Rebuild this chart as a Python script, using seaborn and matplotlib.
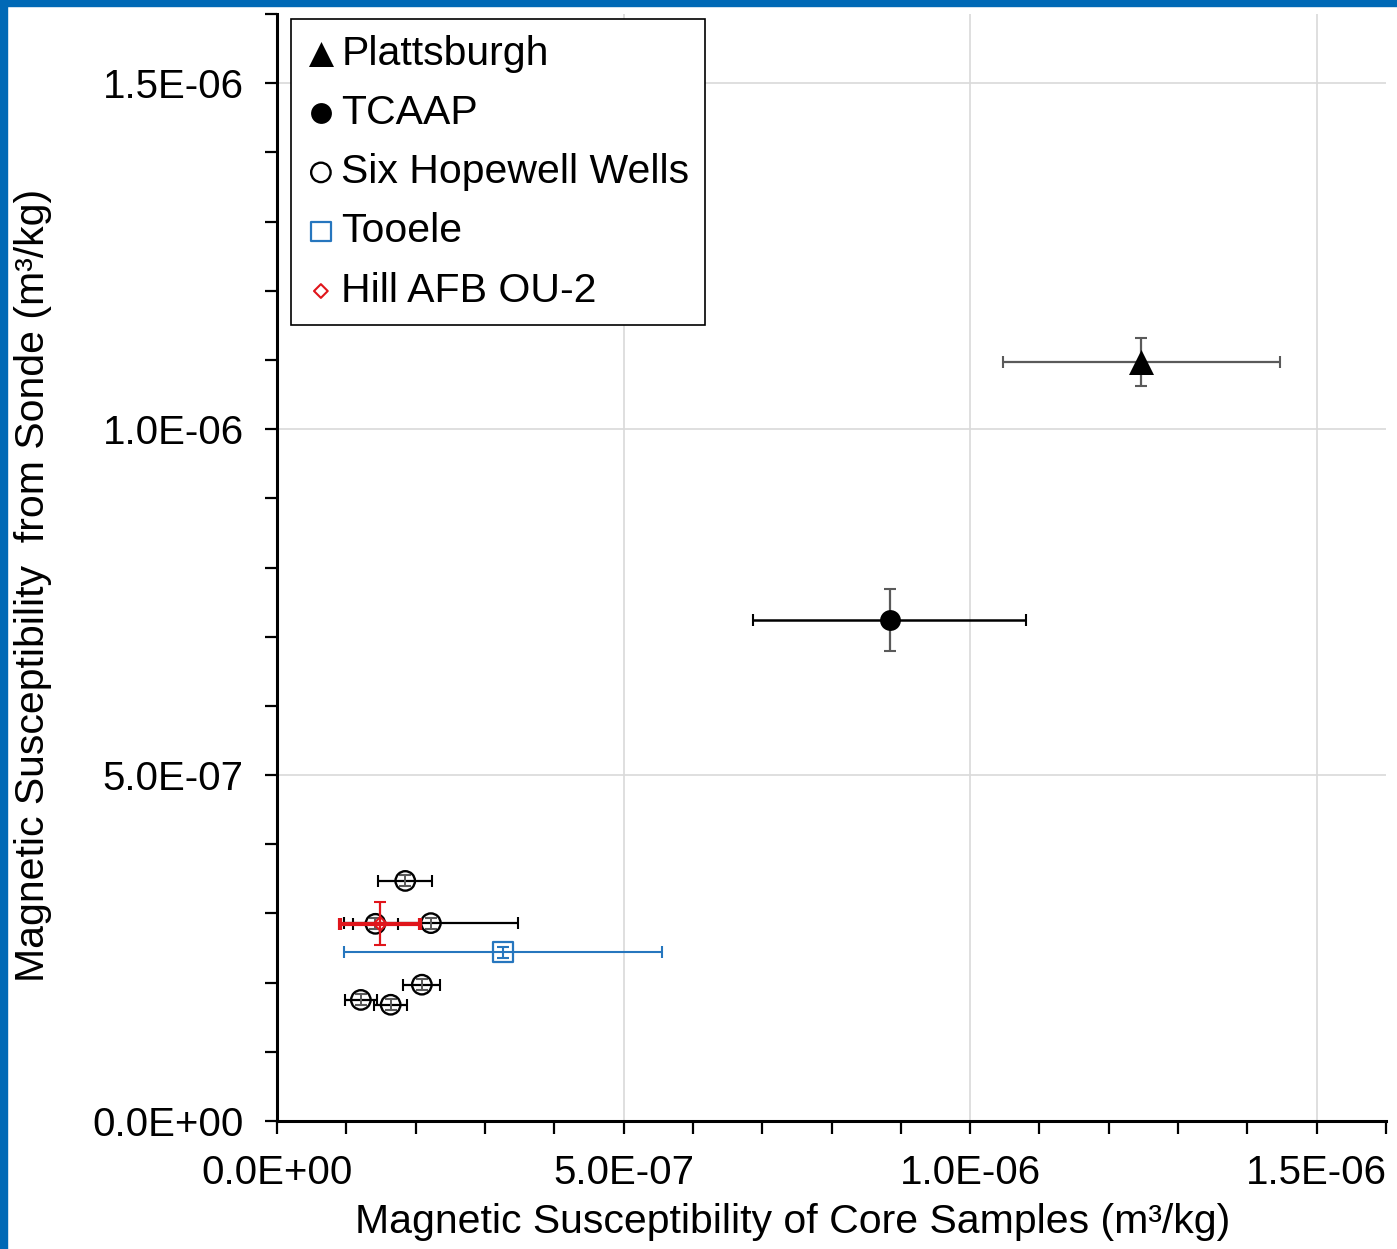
import matplotlib
matplotlib.use("Agg")
import matplotlib.pyplot as plt
from matplotlib.ticker import MultipleLocator, FuncFormatter
from matplotlib.patches import Rectangle
import seaborn as sns
import pandas as pd

# ---------------- data ----------------
plat_x = [1.247e-6]
plat_y = [1.097e-6]
plat_xerr = [2.0e-7]
plat_yerr = [3.4e-8]

tcaap_x = [8.84e-7]
tcaap_y = [7.24e-7]
tcaap_xerr = [1.97e-7]
tcaap_yerr = [4.5e-8]

hope_x = [1.85e-7, 2.22e-7, 1.42e-7, 2.09e-7, 1.21e-7, 1.64e-7]
hope_y = [3.47e-7, 2.86e-7, 2.85e-7, 1.97e-7, 1.75e-7, 1.68e-7]
hope_xerr = [3.9e-8, 1.25e-7, 3.3e-8, 2.65e-8, 2.3e-8, 2.35e-8]
hope_yerr = [8e-9, 8e-9, 8e-9, 8e-9, 8e-9, 8e-9]

tooele_x = [3.26e-7]
tooele_y = [2.44e-7]
tooele_xerr = [2.3e-7]
tooele_yerr = [7.7e-9]

hill_x = [1.49e-7]
hill_y = [2.85e-7]
hill_xerr = [5.8e-8]
hill_yerr = [3.1e-8]

labels = ["Plattsburgh", "TCAAP", "Six Hopewell Wells", "Tooele", "Hill AFB OU-2"]
x_label = "Magnetic Susceptibility of Core Samples (m³/kg)"
y_label = "Magnetic Susceptibility  from Sonde (m³/kg)"

# ---------------- style ----------------
sns.set_theme(style="white")
plt.rcParams["font.family"] = ["Liberation Sans", "DejaVu Sans"]

W, H = 1397, 1249
fig = plt.figure(figsize=(W / 100, H / 100), dpi=100)
ax = fig.add_axes([277 / W, 1 - 1121 / H, (1386 - 277) / W, (1121 - 14) / H])

blue = "#2676BE"
red = "#E0151B"
gray = "#5A5A5A"

def df(x, y, name):
    return pd.DataFrame({"x": x, "y": y, "site": name})

# error bars
eb = dict(fmt="none", capsize=4.5, capthick=1.5)
ax.errorbar(plat_x, plat_y, xerr=plat_xerr, yerr=plat_yerr, ecolor=gray, elinewidth=1.6, zorder=2, **eb)
ax.errorbar(tcaap_x, tcaap_y, xerr=tcaap_xerr, ecolor="black", elinewidth=1.8, zorder=2, **eb)
ax.errorbar(tcaap_x, tcaap_y, yerr=tcaap_yerr, ecolor=gray, elinewidth=1.6, zorder=2, **eb)
ax.errorbar(hope_x, hope_y, xerr=hope_xerr, ecolor="black", elinewidth=1.6, zorder=2, **eb)
ax.errorbar(hope_x, hope_y, yerr=hope_yerr, ecolor=gray, elinewidth=1.4, zorder=2, **eb)
ax.errorbar(tooele_x, tooele_y, xerr=tooele_xerr, yerr=tooele_yerr, ecolor=blue, elinewidth=1.5, zorder=4, **eb)
ax.errorbar(hill_x, hill_y, xerr=hill_xerr, ecolor=red, elinewidth=3.0, zorder=6, fmt="none", capsize=4.5, capthick=3)
ax.errorbar(hill_x, hill_y, yerr=hill_yerr, ecolor=red, elinewidth=1.6, zorder=6, **eb)

# markers
sns.scatterplot(data=df(plat_x, plat_y, labels[0]), x="x", y="y", ax=ax, marker="^", s=18**2,
                color="black", edgecolor="black", linewidth=0, label=labels[0], zorder=3)
sns.scatterplot(data=df(tcaap_x, tcaap_y, labels[1]), x="x", y="y", ax=ax, marker="o", s=15**2,
                color="black", edgecolor="black", linewidth=0, label=labels[1], zorder=3)
sns.scatterplot(data=df(hope_x, hope_y, labels[2]), x="x", y="y", ax=ax, marker="o", s=14**2,
                facecolors="none", edgecolors="black", linewidth=1.7, label=labels[2], zorder=3)
sns.scatterplot(data=df(tooele_x, tooele_y, labels[3]), x="x", y="y", ax=ax, marker="s", s=14**2,
                facecolors="none", edgecolors=blue, linewidth=1.6, label=labels[3], zorder=5)
sns.scatterplot(data=df(hill_x, hill_y, labels[4]), x="x", y="y", ax=ax, marker="D", s=7**2,
                facecolors="none", edgecolors=red, linewidth=1.5, label=labels[4], zorder=7)

# axes
ax.set_xlim(0, 1.6e-6)
ax.set_ylim(0, 1.6e-6)
for a in (ax.xaxis, ax.yaxis):
    a.set_major_locator(MultipleLocator(5e-7))
    a.set_minor_locator(MultipleLocator(1e-7))
    a.set_major_formatter(FuncFormatter(lambda v, p: f"{v:.1E}"))
ax.grid(True, which="major", color="#D9D9D9", linewidth=1.2, zorder=0)
ax.set_axisbelow(True)
for s in ["top", "right"]:
    ax.spines[s].set_visible(False)
for s in ["left", "bottom"]:
    ax.spines[s].set_color("black")
    ax.spines[s].set_linewidth(2.2)
ax.tick_params(axis="both", which="both", direction="out", length=9, width=1.6, color="black",
               bottom=True, left=True, top=False, right=False)
ax.tick_params(axis="x", which="major", pad=15, labelsize=29, labelcolor="black")
ax.tick_params(axis="y", which="major", pad=15, labelsize=29, labelcolor="black")

ax.set_xlabel(x_label, fontsize=29.5, color="black")
ax.set_ylabel(y_label, fontsize=29.5, color="black")
ax.xaxis.set_label_coords(0.465, -0.074)
ax.yaxis.set_label_coords(-0.203, 0.484)

leg = ax.legend(loc="upper left", bbox_to_anchor=(0.0126, 0.9955), borderaxespad=0,
                fontsize=29.5, frameon=True, fancybox=False, framealpha=1, edgecolor="black",
                handlelength=0.7, handletextpad=0.15, labelspacing=0.52, borderpad=0.38)
leg.get_frame().set_linewidth(1.2)
for t in leg.get_texts():
    t.set_color("black")

# blue frame (left and top edges)
fig.add_artist(Rectangle((0, 0), 7 / W, 1, transform=fig.transFigure, color="#0069B6", zorder=10))
fig.add_artist(Rectangle((0, 1 - 6 / H), 1, 6 / H, transform=fig.transFigure, color="#0069B6", zorder=10))

fig.savefig("out.png", dpi=100, facecolor="white")
